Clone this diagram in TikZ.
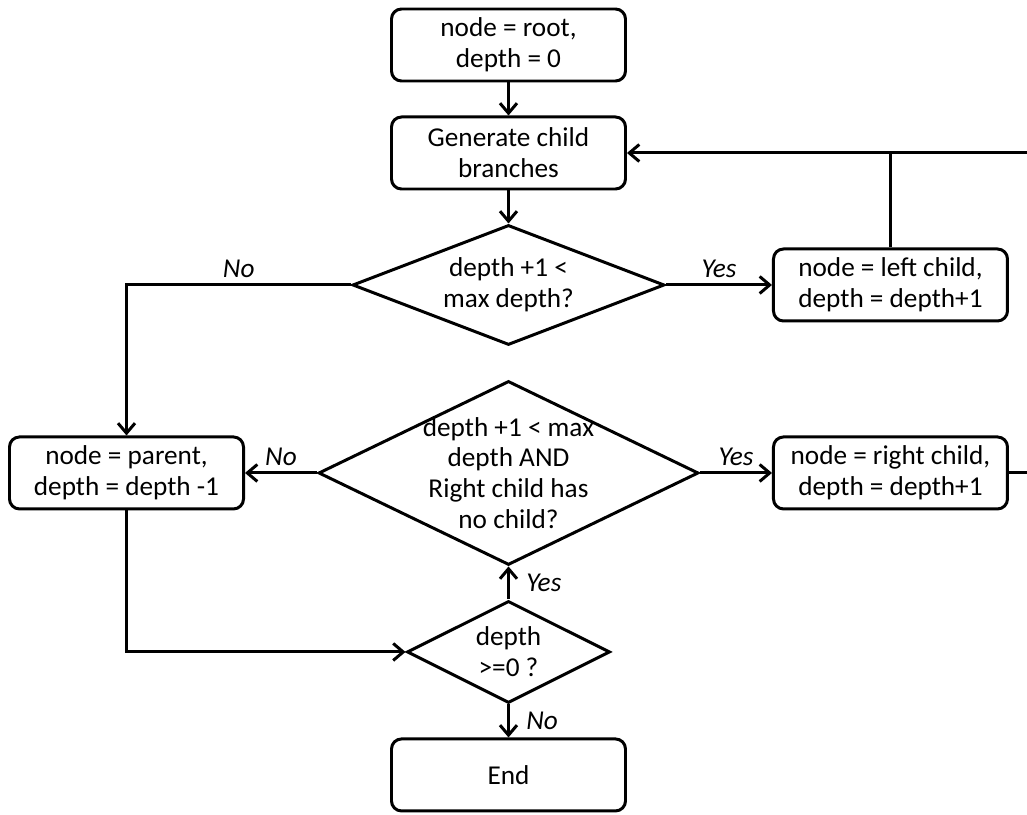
\documentclass[tikz,border=0pt]{standalone}
\usepackage{fontspec}
\setmainfont{Carlito}
\usetikzlibrary{positioning, shapes.geometric, arrows.meta}
\tikzstyle{block} = [rectangle, draw, line width=1.7pt, text centered, align=center, rounded corners=0.2cm, minimum width=4.68cm, minimum height=1.44cm, inner sep=0pt, font=\fontsize{15.5}{17.5}\selectfont]
\tikzstyle{decision} = [diamond, draw, line width=1.7pt, align=center, inner sep=0pt, font=\fontsize{15.5}{17.5}\selectfont]
\tikzstyle{link} = [draw, line width=1.7pt]
\tikzstyle{line} = [link, -{Straight Barb[length=0.2cm, width=0.34cm]}]
\tikzstyle{answer} = [font=\fontsize{15.5}{17.5}\selectfont\itshape]

\begin{document}
\begin{tikzpicture}[node distance=0.66cm]
	\useasboundingbox (-10.17,-15.4) rectangle (10.37,0.9);
	\clip (-10.17,-15.4) rectangle (10.37,0.9);

	\node[block] (root) at (0,0) {node = root,\\depth = 0};
	\node[block, below=of root] (gen) {Generate child\\branches};
	\node[decision, aspect=2.6, minimum width=6.24cm, minimum height=2.4cm, below=of gen] (d1) {depth +1 <\\max depth?};
	\node[decision, minimum width=7.6cm, minimum height=3.68cm, below=of d1, label={[align=center, font=\fontsize{15.5}{17.5}\selectfont]center:depth +1 < max\\depth AND\\Right child has\\no child?}] (d2) {};
	\node[decision, aspect=2, minimum width=4.06cm, minimum height=2.04cm, below=of d2] (d3) {depth\\>=0 ?};
	\node[block, below=of d3] (end) {End};
	\node[block, right=2.12cm of d1] (lchild) {node = left child,\\depth = depth+1};
	\node[block, left=1.44cm of d2] (parent) {node = parent,\\depth = depth -1};
	\node[block, right=1.44cm of d2] (rchild) {node = right child,\\depth = depth+1};

	\path[line] (root) -- (gen);
	\path[line] (gen) -- (d1);
	\path[line] (d1.west) -| node[pos=0.25, above, answer] {No} (parent.north);
	\path[line] (d1.east) -- node[above, answer] {Yes} (lchild.west);
	\path[link] (lchild.north) -- (lchild.north |- gen.east);
	\path[line] (rchild.east) -- ++(1cm,0) |- (gen.east);
	\path[line] (d2.west) -- node[above, answer] {No} (parent.east);
	\path[line] (d2.east) -- node[above, answer] {Yes} (rchild.west);
	\path[line] (parent.south) |- (d3.west);
	\path[line] (d3.north) -- node[right=6pt, answer] {Yes} (d2.south);
	\path[line] (d3.south) -- node[right=6pt, answer] {No} (end.north);
\end{tikzpicture}
\end{document}
